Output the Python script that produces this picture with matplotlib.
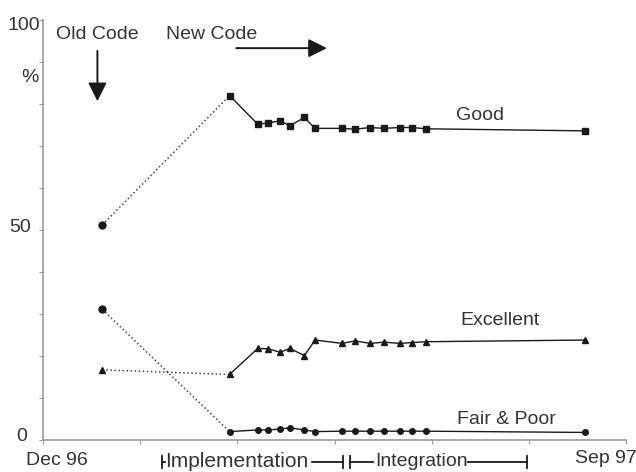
import numpy as np
from matplotlib import pyplot as plt

# month-ish position along the axis (tick spacing = 1)
x_old = [0.61]
x_new = [1.92, 2.21, 2.32, 2.44, 2.54, 2.69, 2.80, 3.08, 3.21, 3.37, 3.51, 3.67, 3.80, 3.94, 5.58]

good_old = [51.2]
good_new = [82.0, 75.2, 75.5, 76.0, 74.8, 76.8, 74.2, 74.2, 74.0, 74.4, 74.2, 74.4, 74.4, 74.1, 73.6]
exc_old = [16.7]
exc_new = [15.6, 21.8, 21.7, 20.9, 21.8, 20.1, 23.8, 23.0, 23.6, 23.0, 23.3, 23.0, 23.2, 23.4, 23.8]
fair_old = [31.1]
fair_new = [2.0, 2.4, 2.4, 2.6, 2.9, 2.4, 2.0, 2.1, 2.1, 2.1, 2.1, 2.1, 2.1, 2.1, 1.8]

ytick_vals = [0, 50, 100]
ytick_labels = ['0', '50', '100']

plt.rcParams['font.family'] = ['Liberation Sans', 'DejaVu Sans']
txt = '#333333'
ln = '#1a1a1a'
fs = 14

fig = plt.figure(figsize=(6.36, 4.72), dpi=100)
ax = fig.add_axes([43/636, 32/472, 583/636, 420/472])
ax.set_xlim(0, 6)
ax.set_ylim(0, 100)

series = [(good_old, good_new, 's', 4.5),
          (exc_old, exc_new, '^', 4.5),
          (fair_old, fair_new, 'o', 4)]
for old, new, mk, ms in series:
    ax.plot([x_old[0], x_new[0]], [old[0], new[0]], ':', color='#444444', lw=1.1)
    ax.plot(x_new, new, '-', color=ln, lw=1.0, marker=mk, ms=ms, mec=ln, mfc=ln)
    ax.plot(x_old, old, marker='o' if mk != '^' else '^', ms=5, color=ln, ls='none')

for s in ['top', 'right']:
    ax.spines[s].set_visible(False)
for s in ['left', 'bottom']:
    ax.spines[s].set_color('#999999')
    ax.spines[s].set_linewidth(1.2)

ax.set_yticks(np.arange(0, 101, 10))
ax.set_yticklabels([])
ax.set_xticks(np.arange(0, 7, 1))
ax.set_xticklabels([])
ax.tick_params(axis='both', which='both', color='#999999', length=3)

# y labels placed by hand (they sit a little off the ticks in the original)
ylab_x = [-0.16, -0.12, -0.03]
ylab_dy = [0.8, 0.5, -1.2]
for v, lab, xx, dy in zip(ytick_vals, ytick_labels, ylab_x, ylab_dy):
    ax.text(xx, v + dy, lab, ha='right', va='center', fontsize=fs, color=txt, clip_on=False)

ax.text(-0.18, -4.8, 'Dec 96', ha='left', va='center', fontsize=fs, color=txt, clip_on=False)
ax.text(5.47, -4.5, 'Sep 97', ha='left', va='center', fontsize=fs, color=txt, clip_on=False)
ax.text(-0.13, 86.3, '%', ha='center', va='center', fontsize=fs, color=txt, clip_on=False)

ax.text(0.56, 96.5, 'Old Code', ha='center', va='center', fontsize=fs, color=txt, clip_on=False)
ax.text(1.74, 96.5, 'New Code', ha='center', va='center', fontsize=fs, color=txt, clip_on=False)
ax.annotate('', xy=(0.56, 80), xytext=(0.56, 93.3),
            arrowprops=dict(arrowstyle='-|>', color=ln, lw=1.4, mutation_scale=28))
ax.annotate('', xy=(2.95, 93.3), xytext=(1.96, 93.3),
            arrowprops=dict(arrowstyle='-|>', color=ln, lw=1.4, mutation_scale=28))

ax.text(4.50, 77.2, 'Good', ha='center', va='center', fontsize=fs, color=txt)
ax.text(4.70, 28.5, 'Excellent', ha='center', va='center', fontsize=fs, color=txt)
ax.text(4.77, 4.9, 'Fair & Poor', ha='center', va='center', fontsize=fs, color=txt)

# phase bracket under the axis
yb = -5.2
ax.plot([1.22, 1.22], [yb - 1.4, yb + 1.4], color=ln, lw=1.3, clip_on=False)
ax.plot([1.22, 1.26], [yb, yb], color=ln, lw=1.3, clip_on=False)
ax.text(1.26, yb, 'Implementation', ha='left', va='center', fontsize=15, color=txt, clip_on=False)
ax.plot([2.77, 3.09], [yb, yb], color=ln, lw=1.3, clip_on=False)
ax.plot([3.09, 3.09], [yb - 1.4, yb + 1.4], color=ln, lw=1.3, clip_on=False)
ax.plot([3.16, 3.16], [yb - 1.4, yb + 1.4], color=ln, lw=1.3, clip_on=False)
ax.plot([3.16, 3.40], [yb, yb], color=ln, lw=1.3, clip_on=False)
ax.text(3.42, yb, 'Integration', ha='left', va='center', fontsize=14, color=txt, clip_on=False)
ax.plot([4.37, 4.98], [yb, yb], color=ln, lw=1.3, clip_on=False)
ax.plot([4.98, 4.98], [yb - 1.4, yb + 1.4], color=ln, lw=1.3, clip_on=False)

fig.savefig('out.png', dpi=100)
